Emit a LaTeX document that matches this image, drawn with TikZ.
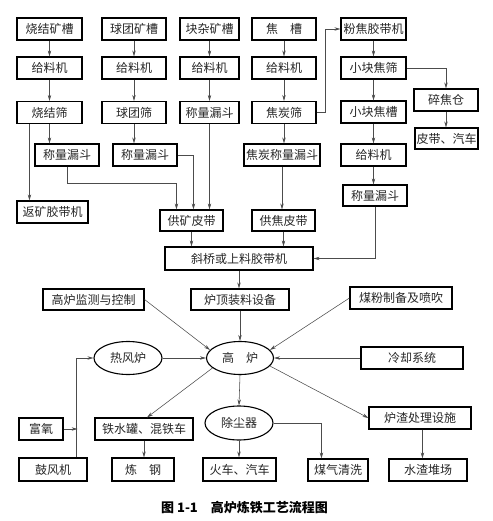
\documentclass[tikz,border=0pt]{standalone}
\usepackage{fontspec}
\setmainfont{Noto Sans CJK SC}
\usetikzlibrary{arrows.meta,shapes.geometric}
\begin{document}
\begin{tikzpicture}[x=1pt,y=-1pt,
  box/.style={draw=black,line width=1.1pt,minimum height=22pt,inner sep=0pt,text=black!85,font=\fontsize{12}{14}\selectfont},
  oval/.style={ellipse,draw=black,line width=1.1pt,inner sep=0pt,minimum width=67pt,minimum height=33pt,text=black!85,font=\fontsize{12}{14}\selectfont},
  arr/.style={draw=black!70,line width=0.55pt,-{Stealth[length=6pt,width=3.4pt]}},
  captext/.style={font=\fontsize{13}{15}\selectfont\bfseries}]
\useasboundingbox (0,0) rectangle (492,521);
% column A
\node[box,minimum width=65pt] (a1) at (49.5,29) {烧结矿槽};
\node[box,minimum width=65pt] (a2) at (49.5,68) {给料机};
\node[box,minimum width=65pt] (a3) at (49.5,112.5) {烧结筛};
\node[box,minimum width=64pt] (a4) at (67,155) {称量漏斗};
% column B
\node[box,minimum width=64pt] (b1) at (134,29) {球团矿槽};
\node[box,minimum width=64pt] (b2) at (134,68) {给料机};
\node[box,minimum width=64pt] (b3) at (134,112.5) {球团筛};
\node[box,minimum width=64pt] (b4) at (145,155) {称量漏斗};
% column C
\node[box,minimum width=59pt] (c1) at (209.5,29) {块杂矿槽};
\node[box,minimum width=59pt] (c2) at (209.5,68) {给料机};
\node[box,minimum width=59pt] (c3) at (209.5,112.5) {称量漏斗};
% column D
\node[box,minimum width=64pt] (d1) at (284,29) {焦\quad 槽};
\node[box,minimum width=64pt] (d2) at (284,68) {给料机};
\node[box,minimum width=64pt] (d3) at (284,112.5) {焦炭筛};
\node[box,minimum width=76pt] (d4) at (282,155) {焦炭称量漏斗};
% column E
\node[box,minimum width=65pt] (e1) at (373.5,29) {粉焦胶带机};
\node[box,minimum width=65pt] (e2) at (373.5,68) {小块焦筛};
\node[box,minimum width=65pt] (e3) at (373.5,112) {小块焦槽};
\node[box,minimum width=65pt] (e4) at (373.5,155) {给料机};
\node[box,minimum width=64pt,minimum height=21pt] (e5) at (375,195.5) {称量漏斗};
% column F
\node[box,minimum width=64pt] (f1) at (446,100) {碎焦仓};
\node[box,minimum width=63pt,minimum height=21pt] (f2) at (446.5,138.5) {皮带、汽车};
% middle
\node[box,minimum width=71pt] (g) at (52.5,212) {返矿胶带机};
\node[box,minimum width=63pt,minimum height=21pt] (h) at (191.5,220.5) {供矿皮带};
\node[box,minimum width=63pt,minimum height=21pt] (i) at (283.5,220.5) {供焦皮带};
\node[box,minimum width=148pt,minimum height=23pt] (j) at (239,258.5) {斜桥或上料胶带机};
\node[box,minimum width=101pt,minimum height=21pt] (k) at (93.5,299.5) {高炉监测与控制};
\node[box,minimum width=98pt,minimum height=21pt] (l) at (240,299.5) {炉顶装料设备};
\node[box,minimum width=102pt] (m) at (401,298) {煤粉制备及喷吹};
\node[oval] (gl) at (240,358) {高\quad 炉};
\node[oval,minimum width=68pt] (rf) at (128,358) {热风炉};
\node[box,minimum width=102pt] (n) at (412,358) {冷却系统};
% bottom
\node[box,minimum width=44pt] (o) at (41,429) {富氧};
\node[box,minimum width=68pt,minimum height=23pt] (p) at (53,469.5) {鼓风机};
\node[box,minimum width=98pt] (q) at (144,429) {铁水罐、混铁车};
\node[box,minimum width=62pt,minimum height=23pt] (r) at (143,469.5) {炼\quad 钢};
\node[oval,minimum width=68pt,minimum height=34pt] (s) at (239,423) {除尘器};
\node[box,minimum width=73pt,minimum height=23pt] (t) at (239.5,469.5) {火车、汽车};
\node[box,minimum width=60pt] (u) at (338,470) {煤气清洗};
\node[box,minimum width=102pt] (v) at (420,418) {炉渣处理设施};
\node[box,minimum width=78pt] (w) at (428,470) {水渣堆场};
\node[captext] (caption) at (244.5,508) {图 1-1\quad 高炉炼铁工艺流程图};
% connectors column A
\draw[arr] (a1) -- (a2);
\draw[arr] (a2) -- (a3);
\draw[arr] (a3.south) -- (a3.south |- a4.north);
\draw[arr] ([xshift=13pt]a3.south west) -- ([xshift=13pt]g.north west);
\draw[arr] (a4.south) -- ++(0,17) -| ([xshift=17pt]h.north west);
% column B
\draw[arr] (b1) -- (b2);
\draw[arr] (b2) -- (b3);
\draw[arr] (b3.south) -- (b3.south |- b4.north);
\draw[arr] (b4.east) -| ([xshift=34pt]h.north west);
% column C
\draw[arr] (c1) -- (c2);
\draw[arr] (c2) -- (c3);
\draw[arr] (c3.south) -- (c3.south |- h.north);
% column D
\draw[arr] (d1) -- (d2);
\draw[arr] (d2) -- (d3);
\draw[arr] (d3.south) -- (d3.south |- d4.north);
\draw[arr] (d4.south) -- (d4.south |- i.north);
\draw[arr] (i.south) -- (i.south |- j.north);
\draw[arr] (d3.east) -- ++(9,0) |- (e1.west);
% column E
\draw[arr] (e1) -- (e2);
\draw[arr] (e2) -- (e3);
\draw[arr] (e3) -- (e4);
\draw[arr] (e4.south) -- (e4.south |- e5.north);
\draw[arr] (e2.east) -| (f1.north);
\draw[arr] (f1.south) -- (f1.south |- f2.north);
\draw[arr] (e5.south) |- (j.east);
% middle
\draw[arr] (h.south) -- (h.south |- j.north);
\draw[arr] (j.south) -- (j.south |- l.north);
\draw[arr] (l.south) -- (gl.north);
\draw[arr] (k.east) -- (gl.165);
\draw[arr] (m.west) -- (gl.15);
\draw[arr] (n.west) -- (gl.east);
\draw[arr] (rf.east) -- (gl.west);
\draw[arr] ([xshift=58pt]p.north west) |- (rf.west);
\draw[arr] (o.east) -- ++(14,0);
% bottom
\draw[arr] (gl.200) -- ([xshift=3pt]q.north);
\draw[arr] (gl.south) -- (s.north);
\draw[arr] (gl.345) -- (v.west);
\draw[arr] (q.south) -- (q.south |- r.north);
\draw[arr] (s.south) -- (s.south |- t.north);
\draw[arr] (s.east) -| ([xshift=14pt]u.north west);
\draw[arr] ([xshift=54pt]v.south west) -- ([xshift=34pt]w.north west);
\end{tikzpicture}
\end{document}
